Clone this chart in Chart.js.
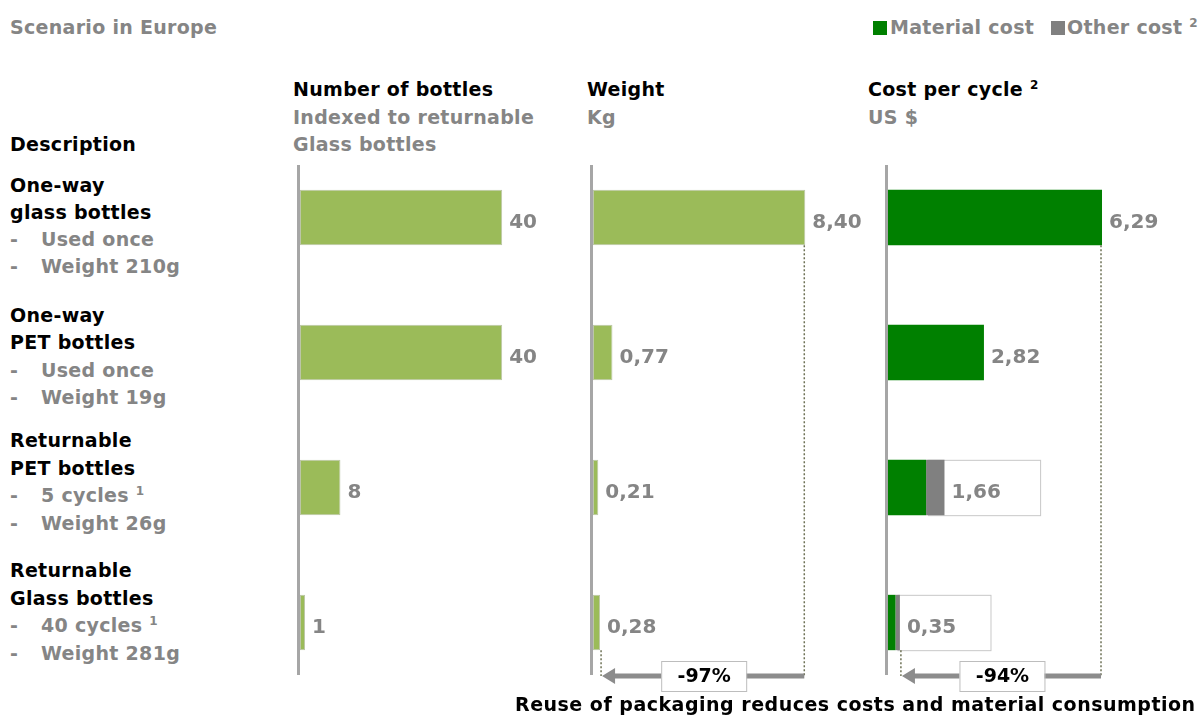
<!DOCTYPE html>
<html>
<head>
<meta charset="utf-8">
<script src="https://cdn.jsdelivr.net/npm/chart.js@4"></script>
<style>
body{margin:0;background:#fff;font-family:"DejaVu Sans",sans-serif;font-weight:bold;}
#page{position:relative;width:1200px;height:716px;overflow:hidden}
.t{position:absolute;font-size:19px;line-height:27px;white-space:nowrap;color:#000;letter-spacing:0.3px}
.g{color:#858585}
.d{display:inline-block;width:31px}
.sq{position:absolute;width:14px;height:14px}
sup{font-size:12px;line-height:0;vertical-align:7px}
canvas{position:absolute;top:150px}
</style>
</head>
<body>
<div id="page">
  <div class="t g" style="left:10px;top:14px">Scenario in Europe</div>

  <div class="sq" style="left:873px;top:21px;background:#008000"></div>
  <div class="t g" style="left:890px;top:14px">Material cost</div>
  <div class="sq" style="left:1051px;top:21px;background:#808080"></div>
  <div class="t g" style="left:1067px;top:14px">Other cost <sup>2</sup></div>

  <div class="t" style="left:293px;top:76px;line-height:27.5px">Number of bottles<br><span class="g">Indexed to returnable<br>Glass bottles</span></div>
  <div class="t" style="left:587px;top:76px;line-height:27.5px">Weight<br><span class="g">Kg</span></div>
  <div class="t" style="left:868px;top:76px;line-height:27.5px">Cost per cycle <sup>2</sup><br><span class="g">US $</span></div>

  <div class="t" style="left:10px;top:131px">Description</div>
  <div class="t" style="left:10px;top:172px">One-way<br>glass bottles<br><span class="g"><span class="d">-</span>Used once<br><span class="d">-</span>Weight 210g</span></div>
  <div class="t" style="left:10px;top:302px;line-height:27.3px">One-way<br>PET bottles<br><span class="g"><span class="d">-</span>Used once<br><span class="d">-</span>Weight 19g</span></div>
  <div class="t" style="left:10px;top:427px;line-height:27.5px">Returnable<br>PET bottles<br><span class="g"><span class="d">-</span>5 cycles <sup>1</sup><br><span class="d">-</span>Weight 26g</span></div>
  <div class="t" style="left:10px;top:557px;line-height:27.5px">Returnable<br>Glass bottles<br><span class="g"><span class="d">-</span>40 cycles <sup>1</sup><br><span class="d">-</span>Weight 281g</span></div>

  <canvas id="bottles" width="290" height="560" style="left:288px"></canvas>
  <canvas id="weight" width="290" height="560" style="left:581px"></canvas>
  <canvas id="cost" width="324" height="560" style="left:876px"></canvas>

  <div class="t" style="left:515px;top:691px;letter-spacing:0.5px">Reuse of packaging reduces costs and material consumption</div>
</div>

<script>
const rows = ['One-way glass bottles', 'One-way PET bottles', 'Returnable PET bottles', 'Returnable Glass bottles']
const bottleCount = [40, 40, 8, 1]
const weightKg = [8.40, 0.77, 0.21, 0.28]
const materialCost = [6.29, 2.82, 1.12, 0.22]
const otherCost = [0, 0, 0.54, 0.13]

const lightGreen = '#9bbb59'
const darkGreen = '#008000'
const otherGrey = '#808080'
const labelGrey = '#858585'
const font = 'bold 20px "DejaVu Sans"'

function comma(v){
    return v.toFixed(2).replace('.', ',')
}

function reductionText(values){
    return '-' + Math.round((1 - values[values.length - 1] / values[0]) * 100) + '%'
}

const totalCost = materialCost.map((m, i) => m + otherCost[i])

// axis line, value labels, boxed totals and the reduction arrow
const panelDecor = {
    id: 'panelDecor',
    beforeDatasetsDraw(chart, args, opts){
        const ctx = chart.ctx
        const area = chart.chartArea
        ctx.save()
        ctx.strokeStyle = '#a6a6a6'
        ctx.lineWidth = 3
        ctx.beginPath()
        ctx.moveTo(area.left - 1.5, area.top + 15)
        ctx.lineTo(area.left - 1.5, area.bottom - 15)
        ctx.stroke()

        const first = chart.getDatasetMeta(0).data
        ;(opts.boxes || []).forEach((w, i) => {
            if (!w) return
            const bar = first[i]
            ctx.fillStyle = '#fff'
            ctx.strokeStyle = '#c8c8c8'
            ctx.lineWidth = 1
            ctx.fillRect(bar.x + 2, bar.y - bar.height / 2, w, bar.height)
            ctx.strokeRect(bar.x + 2.5, bar.y - bar.height / 2 + 0.5, w, bar.height)
        })
        ctx.restore()
    },
    afterDatasetsDraw(chart, args, opts){
        const ctx = chart.ctx
        const area = chart.chartArea
        const last = chart.getDatasetMeta(chart.data.datasets.length - 1).data
        ctx.save()
        ctx.font = font
        ctx.fillStyle = labelGrey
        ctx.textBaseline = 'middle'
        opts.labels.forEach((txt, i) => {
            ctx.fillText(txt, last[i].x + 7, last[i].y + 5)
        })

        if (opts.arrow){
            const top = last[0], bottom = last[last.length - 1]
            const ay = area.bottom - 14
            const xR = top.x, xL = bottom.x + 1
            ctx.strokeStyle = '#6e7256'
            ctx.lineWidth = 1.5
            ctx.setLineDash([2, 2])
            ctx.beginPath()
            ctx.moveTo(xR - 1, top.y + top.height / 2)
            ctx.lineTo(xR - 1, ay)
            ctx.moveTo(xL, bottom.y + bottom.height / 2)
            ctx.lineTo(xL, ay)
            ctx.stroke()
            ctx.setLineDash([])

            ctx.strokeStyle = '#8c8c8c'
            ctx.lineWidth = 5
            ctx.beginPath()
            ctx.moveTo(xR - 1, ay)
            ctx.lineTo(xL + 12, ay)
            ctx.stroke()
            ctx.fillStyle = '#8c8c8c'
            ctx.beginPath()
            ctx.moveTo(xL + 1, ay)
            ctx.lineTo(xL + 14, ay - 8)
            ctx.lineTo(xL + 14, ay + 8)
            ctx.closePath()
            ctx.fill()

            const cx = (xL + xR) / 2
            ctx.fillStyle = '#fff'
            ctx.strokeStyle = '#bdbdbd'
            ctx.lineWidth = 1
            ctx.fillRect(cx - 42, ay - 15, 85, 30)
            ctx.strokeRect(cx - 41.5, ay - 14.5, 85, 30)
            ctx.fillStyle = '#000'
            ctx.textAlign = 'center'
            ctx.font = 'bold 19px "DejaVu Sans"'
            ctx.fillText(opts.arrow, cx + 1, ay + 1)
        }
        ctx.restore()
    }
}

function draw_panel(id, datasets, xMax, decor){
    new Chart(document.getElementById(id), {
        type: 'bar',
        data: { labels: rows, datasets: datasets },
        options: {
            indexAxis: 'y',
            responsive: false,
            animation: false,
            layout: { padding: { left: 12, right: 0, top: 0, bottom: 20 } },
            scales: {
                x: { display: false, min: 0, max: xMax, stacked: true },
                y: { display: false, stacked: true }
            },
            plugins: {
                legend: { display: false },
                tooltip: { enabled: false },
                panelDecor: decor
            }
        },
        plugins: [panelDecor]
    })
}

function bars(values, color, border){
    return {
        data: values,
        backgroundColor: color,
        borderColor: border || color,
        borderWidth: border ? 1 : 0,
        borderSkipped: false,
        barPercentage: 0.41,
        categoryPercentage: 1
    }
}

draw_panel('bottles', [bars(bottleCount, lightGreen, '#bcc6a8')], 55, {
    labels: bottleCount.map(v => String(v))
})

draw_panel('weight', [bars(weightKg, lightGreen, '#bcc6a8')], 11, {
    labels: weightKg.map(comma),
    arrow: reductionText(weightKg)
})

draw_panel('cost', [bars(materialCost, darkGreen), bars(otherCost, otherGrey)], 9.17, {
    labels: totalCost.map(comma),
    boxes: [0, 0, 112, 93],
    arrow: reductionText(totalCost)
})
</script>
</body>
</html>
